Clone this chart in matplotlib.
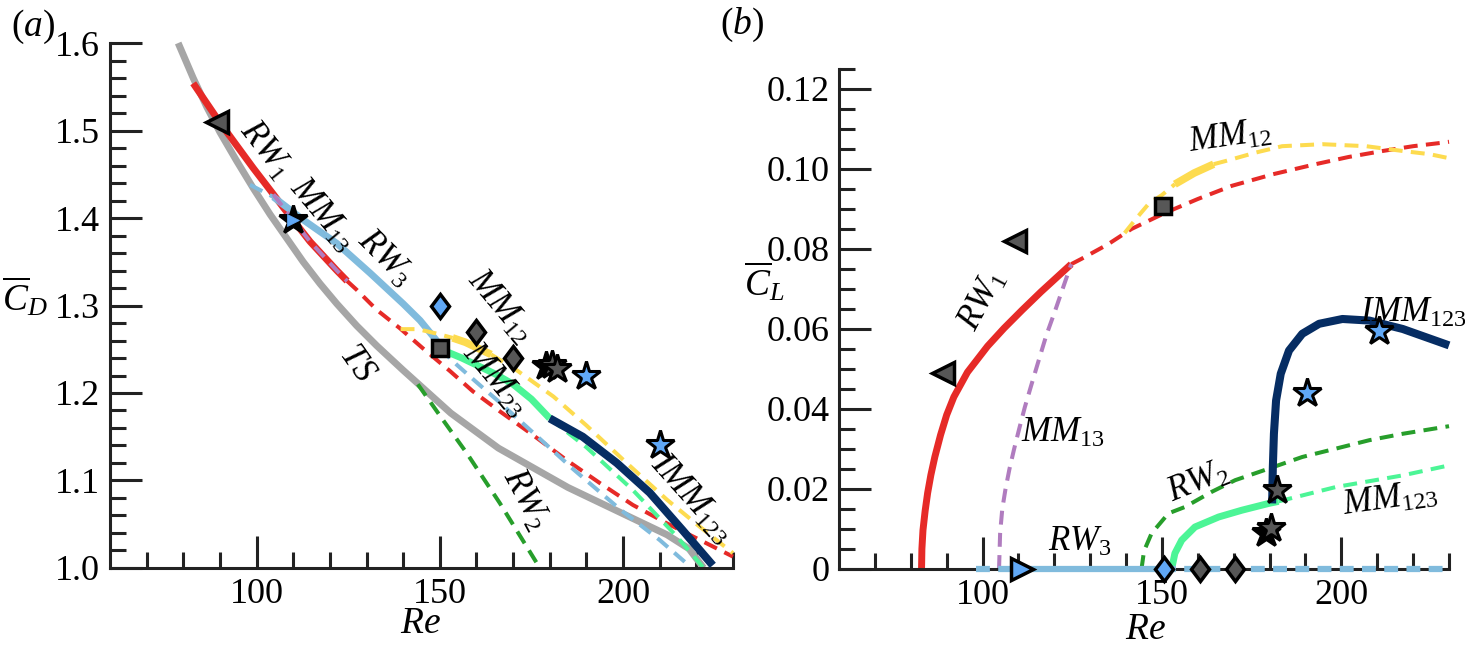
import matplotlib
matplotlib.use('Agg')
import matplotlib.pyplot as plt
from matplotlib.markers import MarkerStyle
from matplotlib.transforms import Affine2D

plt.rcParams['font.family'] = ['Liberation Serif', 'DejaVu Serif']
plt.rcParams['mathtext.fontset'] = 'custom'
plt.rcParams['mathtext.rm'] = 'Liberation Serif'
plt.rcParams['mathtext.it'] = 'Liberation Serif:italic'
plt.rcParams['lines.scale_dashes'] = False
plt.rcParams['lines.solid_capstyle'] = 'butt'
plt.rcParams['lines.dash_capstyle'] = 'butt'

GRAY = '#a6a6a6'
RED = '#e62a27'
LBLUE = '#80bbdd'
PURPLE = '#b07cbf'
YELLOW = '#fddb4f'
LGREEN = '#4cf596'
DGREEN = '#279e2b'
NAVY = '#062d63'
MGRAY = '#575757'
MBLUE = '#60a8f6'

#####
# (a) mean drag vs Re
#####
ts_re = [78.6, 82.7, 86.4, 90, 94.6, 99.1, 103.7, 108.2, 112.7, 117.3, 121.9, 127.3, 132.8,
         136.4, 140, 153, 166, 185, 203, 212, 218, 222]
ts_cd = [1.600, 1.560, 1.527, 1.498, 1.465, 1.434, 1.404, 1.377, 1.350, 1.325, 1.302, 1.277, 1.254,
         1.240, 1.226, 1.177, 1.137, 1.092, 1.056, 1.038, 1.022, 1.000]

rw1_re = [82.7, 90, 99.1, 104.6, 107.3, 114.6, 121.9, 124.7]
rw1_cd = [1.554, 1.509, 1.457, 1.427, 1.412, 1.373, 1.340, 1.328]
rw1u_re = [124.7, 127.3, 132.8, 139.1, 145.4, 152.8, 159, 166.4, 175.4, 184.7, 193.7, 202.7, 212, 221, 230]
rw1u_cd = [1.328, 1.318, 1.295, 1.274, 1.251, 1.225, 1.202, 1.179, 1.152, 1.123, 1.097, 1.072, 1.051, 1.032, 1.013]

mm13_re = [104.6, 107.3, 114.6, 121.9, 124.7]
mm13_cd = [1.427, 1.412, 1.373, 1.340, 1.328]

rw3a_re = [98.2, 104.6]
rw3a_cd = [1.438, 1.424]
rw3_re = [104.6, 112.7, 121.9, 131, 140, 144.6, 149.5]
rw3_cd = [1.424, 1.398, 1.371, 1.337, 1.302, 1.283, 1.258]
rw3u_re = [150, 154.7, 160.1, 165.6, 173.8, 186.4, 199.2, 210, 217.4]
rw3u_cd = [1.251, 1.232, 1.212, 1.192, 1.161, 1.113, 1.067, 1.032, 1.005]

mm12a_re = [139.3, 144, 149, 153.5]
mm12a_cd = [1.273, 1.273, 1.268, 1.263]
mm12_re = [153.5, 157, 161, 164]
mm12_cd = [1.263, 1.258, 1.250, 1.244]
mm12u_re = [164, 171, 181, 190, 201, 212, 221, 230]
mm12u_cd = [1.244, 1.226, 1.196, 1.163, 1.120, 1.078, 1.047, 1.017]

mm23_re = [150, 152, 156, 160, 165, 170, 175, 180]
mm23_cd = [1.251, 1.247, 1.240, 1.232, 1.222, 1.210, 1.193, 1.171]
mm23u_re = [180, 190, 202.7, 214.7, 222]
mm23u_cd = [1.171, 1.138, 1.089, 1.036, 1.000]

imm_re = [180, 189, 198.3, 207.3, 216.3, 224.5]
imm_cd = [1.171, 1.150, 1.120, 1.086, 1.043, 1.003]

rw2_re = [144, 150.9, 157.4, 166.4, 177.3]
rw2_cd = [1.210, 1.169, 1.131, 1.074, 1.000]

# DNS points
tri_re_a = [89.3]
tri_cd_a = [1.510]
star_re_a = [110, 179, 180.5, 182, 190, 210]
star_cd_a = [1.398, 1.231, 1.232, 1.228, 1.220, 1.140]
star_col_a = ['k', 'k', MGRAY, MGRAY, MBLUE, MBLUE]
dia_re_a = [150, 160, 170]
dia_cd_a = [1.300, 1.270, 1.240]
dia_col = [MBLUE, MGRAY, MGRAY]
sq_re_a = [150]
sq_cd_a = [1.251]

#####
# (b) mean lift vs Re
#####
rw1_re_b = [83.0, 83.1, 83.4, 84.0, 84.7, 85.6, 86.7, 88.3, 90, 92, 95.8, 101.4, 106, 111, 116.3, 124.7]
rw1_cl_b = [0, 0.005, 0.0097, 0.0145, 0.019, 0.0235, 0.028, 0.0335, 0.0385, 0.043, 0.0492, 0.0557,
            0.0602, 0.0647, 0.0693, 0.0762]
rw1u_re_b = [124.7, 127.5, 135, 141.5, 150.8, 160, 169.5, 181, 192.8, 202, 211.5, 220, 227.5, 230]
rw1u_cl_b = [0.0762, 0.0775, 0.0812, 0.085, 0.089, 0.0925, 0.0958, 0.0987, 0.1012, 0.103, 0.1045,
             0.1057, 0.1065, 0.1068]

mm13_re_b = [104.6, 104.9, 105.5, 106.4, 107.5, 108.8, 110.2, 111.8, 113.6, 115.6, 117.8, 120.2, 122.5, 124.7]
mm13_cl_b = [0, 0.009, 0.015, 0.020, 0.025, 0.030, 0.035, 0.0405, 0.046, 0.052, 0.0585, 0.0645, 0.0705, 0.0762]

mm12a_re_b = [139.6, 143, 146.3, 150, 153.6]
mm12a_cl_b = [0.084, 0.0878, 0.0913, 0.0935, 0.0962]
mm12_re_b = [153.6, 159, 164.4]
mm12_cl_b = [0.0962, 0.0990, 0.1012]
mm12u_re_b = [164.4, 168.6, 176.1, 183.5, 194.7, 206.9, 217.1, 224.6, 230]
mm12u_cl_b = [0.1012, 0.1022, 0.1041, 0.1057, 0.1062, 0.1057, 0.1045, 0.1037, 0.1027]

rw3a_re_b = [98.2, 104.5]
rw3_re_b = [104.5, 150]
rw3u_re_b = [150, 230]

rw2_re_b = [144.3, 145, 147.1, 151.8, 156.4, 163.9, 170.4, 179.8, 189.1, 198.5, 207.8, 217.1, 230]
rw2_cl_b = [0, 0.0045, 0.0089, 0.0139, 0.0155, 0.0193, 0.0222, 0.0251, 0.028, 0.0301, 0.0322, 0.0338, 0.0357]

mm123_re_b = [152.7, 153.6, 155.5, 159.2, 165.8, 172.3, 179.8, 182.5]
mm123_cl_b = [0, 0.0039, 0.0072, 0.0105, 0.013, 0.0147, 0.0164, 0.0169]
mm123u_re_b = [182.5, 198.5, 217.1, 230]
mm123u_cl_b = [0.0169, 0.0205, 0.0234, 0.0259]

imm_re_b = [180.7, 180.9, 181.2, 181.8, 183.1, 185.4, 189.1, 193.8, 200.3, 207.8, 217.1, 230]
imm_cl_b = [0.0164, 0.0255, 0.0338, 0.0421, 0.0488, 0.0546, 0.0588, 0.0613, 0.0625, 0.0621, 0.0600, 0.0559]

tri_re_b = [89, 109]
tri_cl_b = [0.049, 0.082]
rtri_re_b = [111]
rtri_cl_b = [0]
star_re_b = [179, 180.5, 182, 190.5, 210.5]
star_cl_b = [0.009, 0.0102, 0.0197, 0.044, 0.0596]
star_col_b = ['k', MGRAY, MGRAY, MBLUE, MBLUE]
dia_re_b = [150.5, 160.5, 170.4]
dia_cl_b = [0, 0, 0]
sq_re_b = [150.3]
sq_cl_b = [0.0908]

yticks_a = [1.0, 1.1, 1.2, 1.3, 1.4, 1.5, 1.6]
ylabels_a = ['1.0', '1.1', '1.2', '1.3', '1.4', '1.5', '1.6']
yticks_b = [0, 0.02, 0.04, 0.06, 0.08, 0.10, 0.12]
ylabels_b = ['0', '0.02', '0.04', '0.06', '0.08', '0.10', '0.12']
xticks = [100, 150, 200]

DASH = (0, (10, 6))
THICK = 5.0
THIN = 2.9


def line(ax, x, y, color, lw=THIN, ls=DASH, z=2):
    ax.plot(x, y, color=color, lw=lw, ls=ls, zorder=z, clip_on=False)


fig = plt.figure(figsize=(14.65, 6.64), dpi=100)
ax1 = fig.add_axes([0.0751, 0.1446, 0.4252, 0.7906])
ax2 = fig.add_axes([0.5727, 0.1431, 0.4164, 0.7530])

#####
# panel a
#####
line(ax1, ts_re, ts_cd, GRAY, THICK, '-')
line(ax1, rw2_re, rw2_cd, DGREEN)
line(ax1, rw1_re, rw1_cd, RED, THICK, '-')
line(ax1, rw1u_re, rw1u_cd, RED)
line(ax1, rw3a_re, rw3a_cd, LBLUE)
line(ax1, rw3_re, rw3_cd, LBLUE, THICK, '-')
line(ax1, rw3u_re, rw3u_cd, LBLUE)
line(ax1, mm13_re, mm13_cd, PURPLE, z=3)
line(ax1, mm12a_re, mm12a_cd, YELLOW)
line(ax1, mm12_re, mm12_cd, YELLOW, 5.5, '-')
line(ax1, mm12u_re, mm12u_cd, YELLOW)
line(ax1, mm23u_re, mm23u_cd, LGREEN)
line(ax1, mm23_re, mm23_cd, LGREEN, THICK, '-')
line(ax1, imm_re, imm_cd, NAVY, 5.8, '-', z=3)

ax1.plot(tri_re_a, tri_cd_a, '<', ms=16, mfc=MGRAY, mec='k', mew=2.5, zorder=5)
for r, c, col in zip(star_re_a, star_cd_a, star_col_a):
    ax1.plot(r, c, '*', ms=21, mfc=col, mec='k', mew=2.2, zorder=5)
ax1.plot(star_re_a[0], star_cd_a[0], '>', ms=9, mfc=MBLUE, mec=MBLUE, mew=0.5, zorder=6)
dmark = MarkerStyle('D', transform=Affine2D().scale(0.75, 1.0))
for r, c, col in zip(dia_re_a, dia_cd_a, dia_col):
    ax1.plot(r, c, marker=dmark, ms=12.5, mfc=col, mec='k', mew=2.5, zorder=5)
ax1.plot(sq_re_a, sq_cd_a, 's', ms=12, mfc=MGRAY, mec='k', mew=2.5, zorder=5)

ax1.set_xlim(60, 230)
ax1.set_ylim(1.0, 1.6)
ax1.set_yticks(yticks_a)
ax1.set_yticklabels(ylabels_a)
ax1.set_yticks([1.0 + i * 0.02 for i in range(31)], minor=True)

lab = dict(fontsize=25, ha='center', va='center', rotation_mode='anchor')
ax1.text(102.3, 1.478, r'$RW_1$', rotation=-52, **lab)
ax1.text(117.8, 1.403, r'$MM_{13}$', rotation=-50, **lab)
ax1.text(135.0, 1.354, r'$RW_3$', rotation=-45, **lab)
ax1.text(166.4, 1.299, r'$MM_{12}$', rotation=-50, **lab)
ax1.text(165.0, 1.215, r'$MM_{23}$', rotation=-50, **lab)
ax1.text(127.4, 1.234, r'$TS$', rotation=-55, **lab)
ax1.text(173.2, 1.078, r'$RW_2$', rotation=-62, **lab)
ax1.text(218.8, 1.078, r'$IMM_{123}$', rotation=-48, **lab)

#####
# panel b
#####
line(ax2, rw2_re_b, rw2_cl_b, DGREEN)
line(ax2, rw1_re_b, rw1_cl_b, RED, THICK, '-')
line(ax2, rw1u_re_b, rw1u_cl_b, RED)
line(ax2, mm13_re_b, mm13_cl_b, PURPLE)
line(ax2, mm12a_re_b, mm12a_cl_b, YELLOW)
line(ax2, mm12_re_b, mm12_cl_b, YELLOW, 5.5, '-')
line(ax2, mm12u_re_b, mm12u_cl_b, YELLOW)
line(ax2, rw3a_re_b, [0] * len(rw3a_re_b), LBLUE, 4.5, z=3)
line(ax2, rw3_re_b, [0] * len(rw3_re_b), LBLUE, 4.5, '-', z=3)
line(ax2, rw3u_re_b, [0] * len(rw3u_re_b), LBLUE, 4.5, z=3)
line(ax2, mm123u_re_b, mm123u_cl_b, LGREEN)
line(ax2, mm123_re_b, mm123_cl_b, LGREEN, THICK, '-')
line(ax2, imm_re_b, imm_cl_b, NAVY, 5.8, '-', z=3)

ax2.plot(tri_re_b, tri_cl_b, '<', ms=16, mfc=MGRAY, mec='k', mew=2.5, ls='none', zorder=5)
ax2.plot(rtri_re_b, rtri_cl_b, '>', ms=16, mfc=MBLUE, mec='k', mew=2.5, zorder=5, clip_on=False)
for r, c, col in zip(star_re_b, star_cl_b, star_col_b):
    ax2.plot(r, c, '*', ms=21, mfc=col, mec='k', mew=2.2, zorder=5)
for r, c, col in zip(dia_re_b, dia_cl_b, dia_col):
    ax2.plot(r, c, marker=dmark, ms=12.5, mfc=col, mec='k', mew=2.5, zorder=5, clip_on=False)
ax2.plot(sq_re_b, sq_cl_b, 's', ms=11, mfc=MGRAY, mec='k', mew=2.5, zorder=5)

ax2.set_xlim(60, 230)
ax2.set_ylim(0, 0.125)
ax2.set_yticks(yticks_b)
ax2.set_yticklabels(ylabels_b)
ax2.set_yticks([i * 0.005 for i in range(26)], minor=True)

ax2.text(100.0, 0.067, r'$RW_1$', rotation=62, **lab)
ax2.text(122.5, 0.034, r'$MM_{13}$', **lab)
ax2.text(127.2, 0.0067, r'$RW_3$', **lab)
ax2.text(169.0, 0.1077, r'$MM_{12}$', rotation=8, **lab)
ax2.text(220.2, 0.064, r'$IMM_{123}$', **lab)
ax2.text(160.3, 0.0217, r'$RW_2$', rotation=22, **lab)
ax2.text(213.5, 0.0172, r'$MM_{123}$', rotation=8, **lab)

#####
# axes styling
#####
for ax in (ax1, ax2):
    ax.set_xticks(xticks)
    ax.set_xticklabels([str(t) for t in xticks])
    ax.set_xticks(list(range(70, 231, 10)), minor=True)
    ax.tick_params(which='both', direction='in', width=2.2, color='#222222',
                   labelsize=26, pad=7)
    ax.tick_params(which='major', length=23)
    ax.tick_params(which='minor', length=11.5)
    for s in ('top', 'right'):
        ax.spines[s].set_visible(False)
    for s in ('left', 'bottom'):
        ax.spines[s].set_linewidth(2.2)
        ax.spines[s].set_color('#222222')
    ax.patch.set_alpha(0)

fig.text(0.0225, 0.960, r'($a$)', fontsize=27, ha='center', va='center')
fig.text(0.5065, 0.962, r'($b$)', fontsize=27, ha='center', va='center')
fig.text(0.017, 0.553, r'$\overline{C}_D$', fontsize=27, ha='center', va='center')
fig.text(0.522, 0.575, r'$\overline{C}_L$', fontsize=27, ha='center', va='center')
fig.text(0.2867, 0.060, r'$Re$', fontsize=27, ha='center', va='center')
fig.text(0.7816, 0.051, r'$Re$', fontsize=27, ha='center', va='center')

fig.savefig('out.png', dpi=100)
